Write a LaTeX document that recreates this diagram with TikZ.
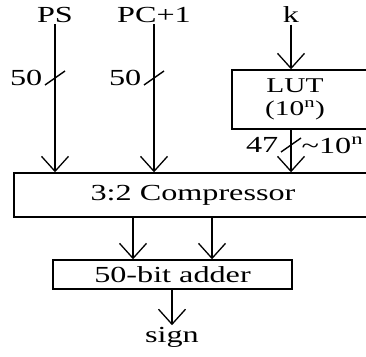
\documentclass[tikz,border=0pt]{standalone}
\usepackage{fontspec}
\setmainfont[FakeStretch=1.4]{Liberation Serif}
\usetikzlibrary{arrows.meta}

\begin{document}
\begin{tikzpicture}[x=1pt,y=-1pt,line width=1.4pt,
 blk/.style={draw,line width=1.4pt,inner sep=0pt},
 lbl/.style={font=\fontsize{23}{25}\selectfont,inner sep=1pt},
 bus/.style={-{Straight Barb[length=15pt,width=27pt,line width=1.3pt]}}]
\clip (0,0) rectangle (366,356);
% inputs
\node[lbl] (ps) at (55,15){PS};
\node[lbl] (pc) at (154,15){PC+1};
\node[lbl] (k) at (291,15){k};
% blocks
\node[blk,minimum width=140,minimum height=59] (lut) at (302,99.5){};
\node[lbl,align=center,font=\fontsize{21}{23}\selectfont] (luttxt) at (295,99){LUT\\(10\textsuperscript{n})};
\node[blk,lbl,minimum width=358,minimum height=44] (comp) at (193,195){3:2 Compressor};
\node[blk,lbl,minimum width=239,minimum height=29] (add) at (172.5,274.5){50-bit adder};
\node[lbl] (sign) at (172,337){sign};
% buses
\draw[bus] (ps) -- (ps |- comp.north);
\draw[bus] (pc) -- (pc |- comp.north);
\draw[bus] (k) -- (k |- lut.north);
\draw[bus] (k |- lut.south) -- (k |- comp.north);
\coordinate (o1) at (133,217);
\coordinate (o2) at (212,217);
\foreach \o in {o1,o2} \draw[bus] (\o) -- (\o |- add.north);
\draw[bus] (add.south -| sign) -- (sign);
% bus widths
\foreach \n/\x/\y/\w in {ps/55/78/50,pc/154/78/50,k/291/145/47}{
 \draw (\x-10,\y+7) -- (\x+10,\y-7);
 \node[lbl,anchor=east] (w\n) at (\x-11,\y){\w};
}
\node[lbl,anchor=west] (wlut) at (300,145){\textasciitilde10\textsuperscript{n}};
\end{tikzpicture}
\end{document}
